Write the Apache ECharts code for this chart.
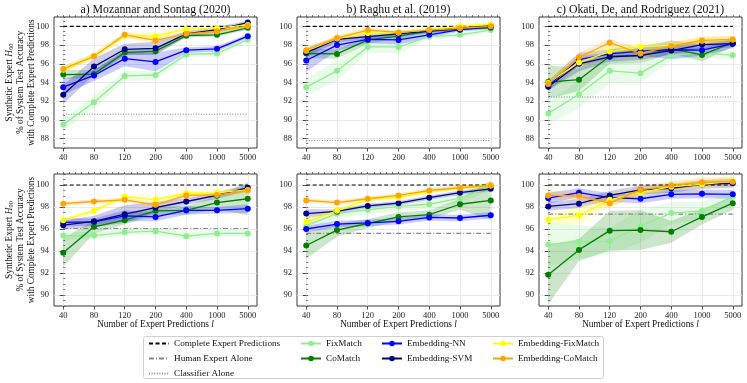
<!DOCTYPE html>
<html><head><meta charset="utf-8">
<script src="https://cdn.jsdelivr.net/npm/echarts@6/dist/echarts.min.js"></script>
<style>html,body{margin:0;padding:0;background:#fff}#c{width:747px;height:383px}</style>
</head><body><div id="c"></div>
<script>
// ---------- data ----------
const xLabels = ['40','80','120','200','400','1000','5000'];
const methodNames = ['FixMatch','CoMatch','Embedding-NN','Embedding-SVM','Embedding-FixMatch','Embedding-CoMatch'];
const methodColors = ['#90ee90','#008000','#0000ff','#00008b','#ffff00','#ffa500'];
const panelTitles = ['a) Mozannar and Sontag (2020)','b) Raghu et al. (2019)','c) Okati, De, and Rodriguez (2021)'];
const completeLevel = 100;

// H60 — Mozannar and Sontag
const mozH60FixMatch = [89.5, 91.9, 94.7, 94.8, 97.0, 97.1, 98.6];
const mozH60CoMatch = [94.85, 94.9, 97.2, 97.35, 99.0, 99.1, 99.85];
const mozH60NN = [93.5, 94.75, 96.55, 96.2, 97.45, 97.6, 98.95];
const mozH60SVM = [92.7, 95.7, 97.55, 97.65, 99.2, 99.65, 100.4];
const mozH60EmbFix = [95.35, 96.85, 99.0, 98.95, 99.7, 99.8, 100.15];
const mozH60EmbCo = [95.45, 96.8, 99.1, 98.5, 99.2, 99.45, 100.05];
const mozH60FixMatchErr = [0.6, 0.7, 0.5, 0.5, 0.3, 0.3, 0.3];
const mozH60CoMatchErr = [0.5, 0.4, 0.3, 0.3, 0.2, 0.2, 0.2];
const mozH60NNErr = [0.8, 0.6, 0.8, 1.0, 0.3, 0.3, 0.2];
const mozH60SVMErr = [1.0, 0.9, 0.6, 0.7, 0.3, 0.3, 0.2];
const mozH60EmbFixErr = [0.4, 0.3, 0.3, 0.4, 0.2, 0.2, 0.2];
const mozH60EmbCoErr = [0.3, 0.3, 0.3, 0.3, 0.2, 0.2, 0.2];
const mozH60Classifier = 90.6;

// H60 — Raghu et al.
const raghuH60FixMatch = [93.5, 95.25, 97.8, 97.8, 98.9, 99.1, 99.6];
const raghuH60CoMatch = [97.1, 97.05, 98.55, 98.95, 99.5, 99.7, 99.85];
const raghuH60NN = [96.35, 98.0, 98.6, 98.55, 99.1, 99.65, 99.95];
const raghuH60SVM = [97.2, 98.6, 98.9, 99.2, 99.5, 99.8, 100.1];
const raghuH60EmbFix = [97.4, 98.7, 99.3, 99.35, 99.65, 100.0, 100.2];
const raghuH60EmbCo = [97.45, 98.75, 99.6, 99.35, 99.6, 99.8, 100.0];
const raghuH60FixMatchErr = [0.9, 1.1, 0.6, 0.7, 0.3, 0.3, 0.2];
const raghuH60CoMatchErr = [0.5, 0.5, 0.4, 0.3, 0.2, 0.2, 0.2];
const raghuH60NNErr = [1.2, 0.6, 0.4, 0.5, 0.3, 0.2, 0.2];
const raghuH60SVMErr = [0.5, 0.3, 0.3, 0.2, 0.2, 0.2, 0.2];
const raghuH60EmbFixErr = [0.3, 0.3, 0.3, 0.2, 0.2, 0.2, 0.2];
const raghuH60EmbCoErr = [0.3, 0.3, 0.3, 0.2, 0.2, 0.2, 0.2];
const raghuH60Classifier = 87.8;

// H60 — Okati, De, and Rodriguez
const okatiH60FixMatch = [90.7, 92.75, 95.25, 95.0, 96.9, 97.2, 96.9];
const okatiH60CoMatch = [94.05, 94.3, 96.8, 96.85, 97.6, 96.95, 98.25];
const okatiH60NN = [93.65, 96.45, 97.05, 97.35, 97.5, 97.45, 98.15];
const okatiH60SVM = [93.55, 96.0, 96.75, 96.9, 97.4, 98.05, 98.15];
const okatiH60EmbFix = [93.95, 96.15, 97.3, 97.8, 98.0, 98.45, 98.6];
const okatiH60EmbCo = [93.85, 96.7, 98.25, 97.1, 97.9, 98.5, 98.6];
const okatiH60FixMatchErr = [1.2, 1.5, 1.3, 1.0, 0.6, 0.5, 0.5];
const okatiH60CoMatchErr = [1.8, 1.2, 0.8, 0.8, 0.5, 0.7, 0.4];
const okatiH60NNErr = [0.5, 0.7, 0.5, 0.5, 1.0, 0.6, 0.5];
const okatiH60SVMErr = [0.4, 0.8, 0.5, 0.5, 0.4, 0.4, 0.4];
const okatiH60EmbFixErr = [0.5, 0.6, 0.6, 0.5, 0.4, 0.4, 0.4];
const okatiH60EmbCoErr = [0.4, 0.5, 0.4, 0.6, 0.4, 0.4, 0.4];
const okatiH60Classifier = 92.45;

// H90 — Mozannar and Sontag
const mozH90FixMatch = [95.4, 95.4, 95.7, 95.8, 95.35, 95.6, 95.6];
const mozH90CoMatch = [93.85, 96.2, 96.8, 97.65, 97.7, 98.4, 98.75];
const mozH90NN = [96.6, 96.65, 97.2, 97.1, 97.7, 97.7, 97.85];
const mozH90SVM = [96.35, 96.7, 97.35, 97.95, 98.5, 99.05, 99.75];
const mozH90EmbFix = [96.8, 97.65, 98.95, 98.65, 99.25, 99.3, 99.55];
const mozH90EmbCo = [98.3, 98.5, 98.65, 98.2, 99.05, 99.1, 99.5];
const mozH90FixMatchErr = [0.4, 0.3, 0.3, 0.3, 0.3, 0.3, 0.3];
const mozH90CoMatchErr = [1.3, 0.6, 0.4, 0.4, 0.4, 0.6, 1.5];
const mozH90NNErr = [0.4, 0.3, 0.5, 0.4, 0.4, 0.3, 0.4];
const mozH90SVMErr = [0.4, 0.5, 0.8, 0.5, 0.3, 0.3, 0.3];
const mozH90EmbFixErr = [0.2, 0.2, 0.2, 0.2, 0.2, 0.2, 0.2];
const mozH90EmbCoErr = [0.2, 0.2, 0.2, 0.2, 0.2, 0.2, 0.2];
const mozH90Human = 96.05;

// H90 — Raghu et al.
const raghuH90FixMatch = [96.3, 97.4, 97.75, 98.05, 98.25, 98.8, 99.85];
const raghuH90CoMatch = [94.5, 95.9, 96.5, 97.1, 97.3, 98.25, 98.6];
const raghuH90NN = [96.0, 96.45, 96.55, 96.7, 97.05, 97.0, 97.25];
const raghuH90SVM = [97.4, 97.6, 98.1, 98.35, 98.85, 99.3, 99.65];
const raghuH90EmbFix = [96.65, 97.65, 98.7, 98.85, 99.4, 99.75, 99.95];
const raghuH90EmbCo = [98.6, 98.4, 98.75, 99.05, 99.5, 99.75, 99.95];
const raghuH90FixMatchErr = [0.5, 0.5, 0.4, 0.4, 0.4, 0.4, 0.4];
const raghuH90CoMatchErr = [1.2, 0.6, 0.4, 0.4, 0.4, 0.5, 1.8];
const raghuH90NNErr = [0.3, 0.3, 0.3, 0.3, 0.3, 0.3, 0.3];
const raghuH90SVMErr = [0.4, 0.2, 0.2, 0.2, 0.2, 0.2, 0.2];
const raghuH90EmbFixErr = [0.4, 0.3, 0.2, 0.2, 0.2, 0.2, 0.2];
const raghuH90EmbCoErr = [0.2, 0.2, 0.2, 0.2, 0.2, 0.2, 0.2];
const raghuH90Human = 95.6;

// H90 — Okati, De, and Rodriguez
const okatiH90FixMatch = [94.6, 94.85, 94.9, 96.25, 97.45, 97.65, 98.95];
const okatiH90CoMatch = [91.85, 94.1, 95.85, 95.9, 95.75, 97.1, 98.35];
const okatiH90NN = [98.8, 99.3, 98.85, 98.75, 99.15, 99.2, 99.15];
const okatiH90SVM = [98.05, 98.3, 99.05, 99.55, 99.7, 100.05, 100.15];
const okatiH90EmbFix = [96.85, 97.25, 98.65, 99.3, 99.85, 100.05, 100.35];
const okatiH90EmbCo = [99.05, 99.0, 98.35, 99.55, 99.95, 100.25, 100.3];
const okatiH90FixMatchErr = [2.0, 1.5, 1.2, 1.5, 1.0, 0.8, 0.5];
const okatiH90CoMatchErr = [2.7, 1.0, 1.8, 1.8, 1.0, 0.7, 0.6];
const okatiH90NNErr = [0.5, 0.4, 0.4, 0.4, 0.4, 0.4, 0.4];
const okatiH90SVMErr = [0.4, 0.4, 0.4, 0.4, 0.4, 0.4, 0.4];
const okatiH90EmbFixErr = [0.5, 0.8, 0.6, 0.4, 0.4, 0.4, 0.4];
const okatiH90EmbCoErr = [0.4, 0.4, 0.4, 0.4, 0.4, 0.4, 0.4];
const okatiH90Human = 97.35;

const yTicksH60 = [88, 90, 92, 94, 96, 98, 100];
const yTicksH90 = [90, 92, 94, 96, 98, 100];

// ---------- layout ----------
const FONT = 'Liberation Serif';
const panelLeft = [54, 297, 539];
const panelW = 203;
const rowTop = [17, 174];
const rowH = [131, 132];
const yRange = [[87, 101], [89, 101]];

const panels = [
  {row:0,col:0, means:[mozH60FixMatch,mozH60CoMatch,mozH60NN,mozH60SVM,mozH60EmbFix,mozH60EmbCo],
   errs:[mozH60FixMatchErr,mozH60CoMatchErr,mozH60NNErr,mozH60SVMErr,mozH60EmbFixErr,mozH60EmbCoErr], refName:'Classifier Alone', ref:mozH60Classifier},
  {row:0,col:1, means:[raghuH60FixMatch,raghuH60CoMatch,raghuH60NN,raghuH60SVM,raghuH60EmbFix,raghuH60EmbCo],
   errs:[raghuH60FixMatchErr,raghuH60CoMatchErr,raghuH60NNErr,raghuH60SVMErr,raghuH60EmbFixErr,raghuH60EmbCoErr], refName:'Classifier Alone', ref:raghuH60Classifier},
  {row:0,col:2, means:[okatiH60FixMatch,okatiH60CoMatch,okatiH60NN,okatiH60SVM,okatiH60EmbFix,okatiH60EmbCo],
   errs:[okatiH60FixMatchErr,okatiH60CoMatchErr,okatiH60NNErr,okatiH60SVMErr,okatiH60EmbFixErr,okatiH60EmbCoErr], refName:'Classifier Alone', ref:okatiH60Classifier},
  {row:1,col:0, means:[mozH90FixMatch,mozH90CoMatch,mozH90NN,mozH90SVM,mozH90EmbFix,mozH90EmbCo],
   errs:[mozH90FixMatchErr,mozH90CoMatchErr,mozH90NNErr,mozH90SVMErr,mozH90EmbFixErr,mozH90EmbCoErr], refName:'Human Expert Alone', ref:mozH90Human},
  {row:1,col:1, means:[raghuH90FixMatch,raghuH90CoMatch,raghuH90NN,raghuH90SVM,raghuH90EmbFix,raghuH90EmbCo],
   errs:[raghuH90FixMatchErr,raghuH90CoMatchErr,raghuH90NNErr,raghuH90SVMErr,raghuH90EmbFixErr,raghuH90EmbCoErr], refName:'Human Expert Alone', ref:raghuH90Human},
  {row:1,col:2, means:[okatiH90FixMatch,okatiH90CoMatch,okatiH90NN,okatiH90SVM,okatiH90EmbFix,okatiH90EmbCo],
   errs:[okatiH90FixMatchErr,okatiH90CoMatchErr,okatiH90NNErr,okatiH90SVMErr,okatiH90EmbFixErr,okatiH90EmbCoErr], refName:'Human Expert Alone', ref:okatiH90Human}
];

const refStyles = {
  'Complete Expert Predictions': {color:'#000', type:[4,2.5], width:1.2},
  'Human Expert Alone': {color:'#888', type:[5,2,1,2], width:1.1},
  'Classifier Alone': {color:'#888', type:[1,1.6], width:1.1}
};

const grids = [], xAxes = [], yAxes = [], series = [];
const xMinor = [];
for (let v = -0.2; v <= 6.25; v += 0.2) xMinor.push(Math.round(v*10)/10);
const idx = xLabels.map((_, i) => i);

panels.forEach((p, g) => {
  const yr = yRange[p.row];
  const yTicks = p.row === 0 ? yTicksH60 : yTicksH90;
  const yMinor = [];
  for (let v = yr[0]; v <= yr[1]; v += 0.5) yMinor.push(v);
  grids.push({left: panelLeft[p.col], top: rowTop[p.row], width: panelW, height: rowH[p.row],
    show: true, borderColor: '#3a3a3a', borderWidth: 1, backgroundColor: '#fff'});
  const lab = {fontFamily: FONT, fontSize: 8.5, color: '#222'};
  xAxes.push({type:'value', gridIndex:g, min:-0.3, max:6.3,
    axisLine:{show:false},
    axisTick:{show:true, length:3.5, lineStyle:{color:'#3a3a3a', width:0.9}, customValues: idx},
    axisLabel:Object.assign({margin:5, customValues: idx, formatter: v => xLabels[Math.round(v)]}, lab),
    splitLine:{show:true, lineStyle:{color:'#e4e4e4', width:0.8}}});
  xAxes.push({type:'value', gridIndex:g, min:-0.3, max:6.3,
    axisLine:{show:false}, axisLabel:{show:false}, splitLine:{show:false},
    axisTick:{show:true, length:2, lineStyle:{color:'#3a3a3a', width:0.7}, customValues: xMinor}});
  yAxes.push({type:'value', gridIndex:g, min:yr[0], max:yr[1],
    axisLine:{show:false},
    axisTick:{show:true, length:3.5, lineStyle:{color:'#3a3a3a', width:0.9}, customValues: yTicks},
    axisLabel:Object.assign({margin:5, customValues: yTicks}, lab),
    splitLine:{show:true, lineStyle:{color:'#e4e4e4', width:0.8}}});
  yAxes.push({type:'value', gridIndex:g, min:yr[0], max:yr[1],
    axisLine:{show:false}, axisLabel:{show:false}, splitLine:{show:false},
    axisTick:{show:true, length:2, lineStyle:{color:'#3a3a3a', width:0.7}, customValues: yMinor}});

  const xa = 2*g, ya = 2*g;
  // reference lines
  series.push({name:'Complete Expert Predictions', type:'line', xAxisIndex:xa, yAxisIndex:ya,
    data:[[0, completeLevel],[6, completeLevel]], symbol:'none', silent:true, z:1,
    lineStyle:refStyles['Complete Expert Predictions'], itemStyle:{color:'#000'}});
  series.push({name:p.refName, type:'line', xAxisIndex:xa, yAxisIndex:ya,
    data:[[0, p.ref],[6, p.ref]], symbol:'none', silent:true, z:1,
    lineStyle:refStyles[p.refName], itemStyle:{color:'#888'}});
  // bands
  p.means.forEach((m, k) => {
    const e = p.errs[k];
    const hi = m.map((v, i) => v + e[i]);
    const lo = m.map((v, i) => v - e[i]);
    series.push({type:'custom', xAxisIndex:xa, yAxisIndex:ya, silent:true, z:1, clip:true,
      data:[[0, m[0]]],
      renderItem: (params, api) => {
        const pts = [];
        for (let i = 0; i < hi.length; i++) pts.push(api.coord([i, hi[i]]));
        for (let i = lo.length - 1; i >= 0; i--) pts.push(api.coord([i, lo[i]]));
        return {type:'polygon', shape:{points:pts}, style:{fill:methodColors[k], opacity:0.2}};
      }});
  });
  // method lines
  p.means.forEach((m, k) => {
    series.push({name:methodNames[k], type:'line', xAxisIndex:xa, yAxisIndex:ya, z:3,
      data: m.map((v, i) => [i, v]), symbol:'circle', symbolSize:6, silent:true,
      lineStyle:{color:methodColors[k], width:1.3}, itemStyle:{color:methodColors[k]}});
  });
});

// ---------- texts ----------
const LBL = 9.3;
const graphics = [];
panelTitles.forEach((t, c) => {
  graphics.push({type:'text', x: panelLeft[c] + panelW/2, y: 9.5,
    style:{text:t, fontFamily:FONT, fontSize:11.8, fill:'#111', textAlign:'center', textVerticalAlign:'middle'}});
  graphics.push({type:'text', x: panelLeft[c] + panelW/2, y: 325,
    style:{text:'Number of Expert Predictions {i|l}', fontFamily:FONT, fontSize:LBL, fill:'#111',
      textAlign:'center', textVerticalAlign:'middle',
      rich:{i:{fontFamily:FONT, fontSize:LBL, fontStyle:'italic', fill:'#111'}}}});
});
['60','90'].forEach((h, r) => {
  graphics.push({type:'text', x: 20.5, y: rowTop[r] + rowH[r]/2, rotation: Math.PI/2,
    style:{text:'Synthetic Expert {i|H}{sub|' + h + '}\n% of System Test Accuracy\nwith Complete Expert Predictions',
      fontFamily:FONT, fontSize:LBL, fill:'#111', lineHeight:10.8,
      textAlign:'center', textVerticalAlign:'middle',
      rich:{i:{fontFamily:FONT, fontSize:LBL, fontStyle:'italic', fill:'#111', lineHeight:10.8},
            sub:{fontFamily:FONT, fontSize:6.5, fill:'#111', verticalAlign:'bottom', lineHeight:8.5}}}});
});
graphics.push({type:'rect', shape:{x:143.5, y:336.5, width:460, height:42, r:2},
  style:{fill:'#fff', stroke:'#d0d0d0', lineWidth:1}, z:-1});

const legendBase = {orient:'vertical', itemWidth:20, itemHeight:7, itemGap:6, selectedMode:false,
  textStyle:{fontFamily:FONT, fontSize:9.2, color:'#111'}, padding:0};
const refItem = name => ({name: name, itemStyle:{opacity:0}});
const legends = [
  Object.assign({left:148, top:339, data:[refItem('Complete Expert Predictions'), refItem('Human Expert Alone'), refItem('Classifier Alone')]}, legendBase),
  Object.assign({left:300, top:339, data:['FixMatch','CoMatch']}, legendBase),
  Object.assign({left:381, top:339, data:['Embedding-NN','Embedding-SVM']}, legendBase),
  Object.assign({left:492, top:339, data:['Embedding-FixMatch','Embedding-CoMatch']}, legendBase)
];

const chart = echarts.init(document.getElementById('c'), null, {renderer:'canvas'});
chart.setOption({
  animation:false, backgroundColor:'#fff',
  grid:grids, xAxis:xAxes, yAxis:yAxes, series:series, legend:legends, graphic:graphics
});
</script></body></html>
